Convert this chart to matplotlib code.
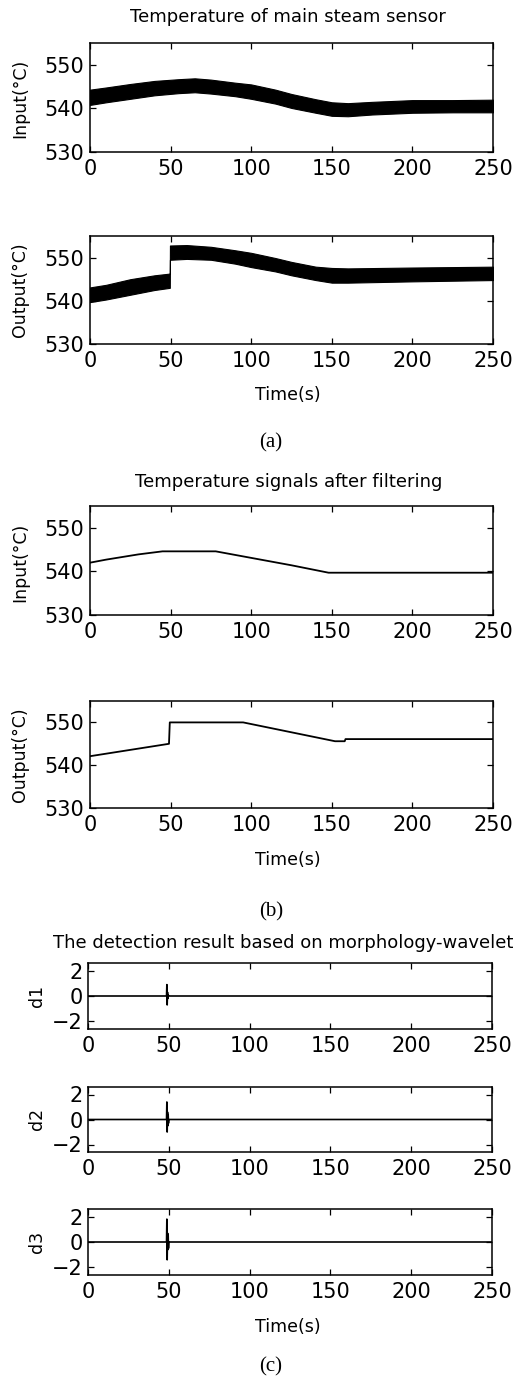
import matplotlib
matplotlib.use("Agg")
import matplotlib.pyplot as plt

# ---------------- data ----------------
# (a) raw sensor signals: noisy band given by upper / lower envelopes
raw_in_t = [0, 10, 25, 40, 55, 65, 75, 90, 100, 115, 125, 140, 150, 160, 175, 200, 225, 250]
raw_in_upper = [544.3, 544.8, 545.6, 546.3, 546.7, 546.9, 546.6, 545.9, 545.5, 544.3, 543.3, 542.1, 541.4, 541.2, 541.5, 541.9, 541.9, 542.0]
raw_in_lower = [540.8, 541.4, 542.2, 543.0, 543.5, 543.7, 543.4, 542.8, 542.2, 541.1, 540.1, 539.0, 538.3, 538.2, 538.6, 539.0, 539.1, 539.1]

raw_out_t = [0, 10, 25, 40, 49.5, 49.6, 60, 75, 90, 100, 115, 125, 140, 150, 160, 200, 250]
raw_out_upper = [543.1, 543.7, 545.0, 545.9, 546.3, 552.8, 552.9, 552.5, 551.7, 551.1, 549.9, 549.0, 547.9, 547.6, 547.5, 547.7, 547.9]
raw_out_lower = [539.7, 540.3, 541.4, 542.5, 543.0, 549.5, 549.7, 549.5, 548.6, 547.8, 546.8, 545.9, 544.8, 544.2, 544.2, 544.5, 544.8]

# (b) filtered signals
filt_in_t = [0, 10, 20, 30, 45, 78, 100, 125, 148, 250]
filt_in = [542.0, 542.7, 543.3, 543.9, 544.6, 544.6, 543.1, 541.4, 539.7, 539.7]

filt_out_t = [0, 49, 49.5, 95, 152, 158, 158.5, 250]
filt_out = [542.1, 545.0, 550.0, 550.0, 545.6, 545.6, 546.1, 546.1]

# (c) detection result (wavelet details d1..d3)
det_t = [0, 48.6, 48.8, 49.0, 49.2, 49.4, 49.6, 49.8, 50.0, 250]
d1 = [0, 0, 0.9, -0.7, 0.3, -0.2, 0.1, 0.0, 0.0, 0]
d2 = [0, 0, 1.4, -1.0, 0.6, -0.5, 0.4, -0.3, 0.0, 0]
d3 = [0, 0, 1.8, -1.4, 0.7, -0.6, 0.6, -0.5, 0.0, 0]

x_ticks = [0, 50, 100, 150, 200, 250]
temp_ticks = [530, 540, 550]
det_ticks = [-2, 0, 2]

titles = ["Temperature of main steam sensor",
          "Temperature signals after filtering",
          "The detection result based on morphology-wavelet"]
captions = ["(a)", "(b)", "(c)"]

# ---------------- layout ----------------
W, H = 513, 1387
plt.rcParams['font.family'] = ['DejaVu Sans']
fig = plt.figure(figsize=(W / 100, H / 100), dpi=100)
fig.patch.set_facecolor('white')

def add_ax(left, right, top, bottom):
    return fig.add_axes([left / W, 1 - bottom / H, (right - left) / W, (bottom - top) / H])

def ftext(x, y, s, **kw):
    return fig.text(x / W, 1 - y / H, s, **kw)

TICK_FS = 15
LAB_FS = 12.5
TITLE_FS = 13

def style(ax, yticks, ylim):
    ax.set_xlim(0, 250)
    ax.set_ylim(*ylim)
    ax.set_xticks(x_ticks)
    ax.set_yticks(yticks)
    ax.tick_params(direction='in', top=True, right=True, length=4, width=0.9,
                   labelsize=TICK_FS, pad=5, colors='black')
    ax.tick_params(axis='y', pad=4)
    for sp in ax.spines.values():
        sp.set_linewidth(1.1)

# (a)
ax1 = add_ax(90, 493, 43, 152)
ax1.fill_between(raw_in_t, raw_in_lower, raw_in_upper, color='black', lw=0.8)
style(ax1, temp_ticks, (530, 555))
ax2 = add_ax(90, 493, 236, 344)
ax2.fill_between(raw_out_t, raw_out_lower, raw_out_upper, color='black', lw=0.8)
style(ax2, temp_ticks, (530, 555))

# (b)
ax3 = add_ax(90, 493, 506, 615)
ax3.plot(filt_in_t, filt_in, color='black', lw=1.3)
style(ax3, temp_ticks, (530, 555))
ax4 = add_ax(90, 493, 701, 808)
ax4.plot(filt_out_t, filt_out, color='black', lw=1.3)
style(ax4, temp_ticks, (530, 555))

# (c)
axd1 = add_ax(88, 492, 963, 1029)
axd1.plot(det_t, d1, color='black', lw=1.2)
style(axd1, det_ticks, (-2.6, 2.6))
axd2 = add_ax(88, 492, 1087, 1152)
axd2.plot(det_t, d2, color='black', lw=1.2)
style(axd2, det_ticks, (-2.6, 2.6))
axd3 = add_ax(88, 492, 1209, 1275)
axd3.plot(det_t, d3, color='black', lw=1.2)
style(axd3, det_ticks, (-2.6, 2.6))

# titles
ftext(288, 17, titles[0], ha='center', va='center', fontsize=TITLE_FS)
ftext(289, 482, titles[1], ha='center', va='center', fontsize=TITLE_FS)
ftext(53, 943, titles[2], ha='left', va='center', fontsize=TITLE_FS)

# axis labels
for y in (395, 860, 1327):
    ftext(288, y, "Time(s)", ha='center', va='center', fontsize=LAB_FS)
ftext(20, 98, "Input(°C)", ha='center', va='center', rotation=90, fontsize=LAB_FS)
ftext(20, 290, "Output(°C)", ha='center', va='center', rotation=90, fontsize=LAB_FS)
ftext(20, 562, "Input(°C)", ha='center', va='center', rotation=90, fontsize=LAB_FS)
ftext(20, 755, "Output(°C)", ha='center', va='center', rotation=90, fontsize=LAB_FS)
ftext(37, 996, "d1", ha='center', va='center', rotation=90, fontsize=LAB_FS)
ftext(37, 1119, "d2", ha='center', va='center', rotation=90, fontsize=LAB_FS)
ftext(37, 1242, "d3", ha='center', va='center', rotation=90, fontsize=LAB_FS)

# captions
for y, c in zip((443, 912, 1367), captions):
    ftext(271, y, c, ha='center', va='center', fontsize=15, family='Liberation Serif')

fig.savefig("out.png", dpi=100, facecolor='white')
